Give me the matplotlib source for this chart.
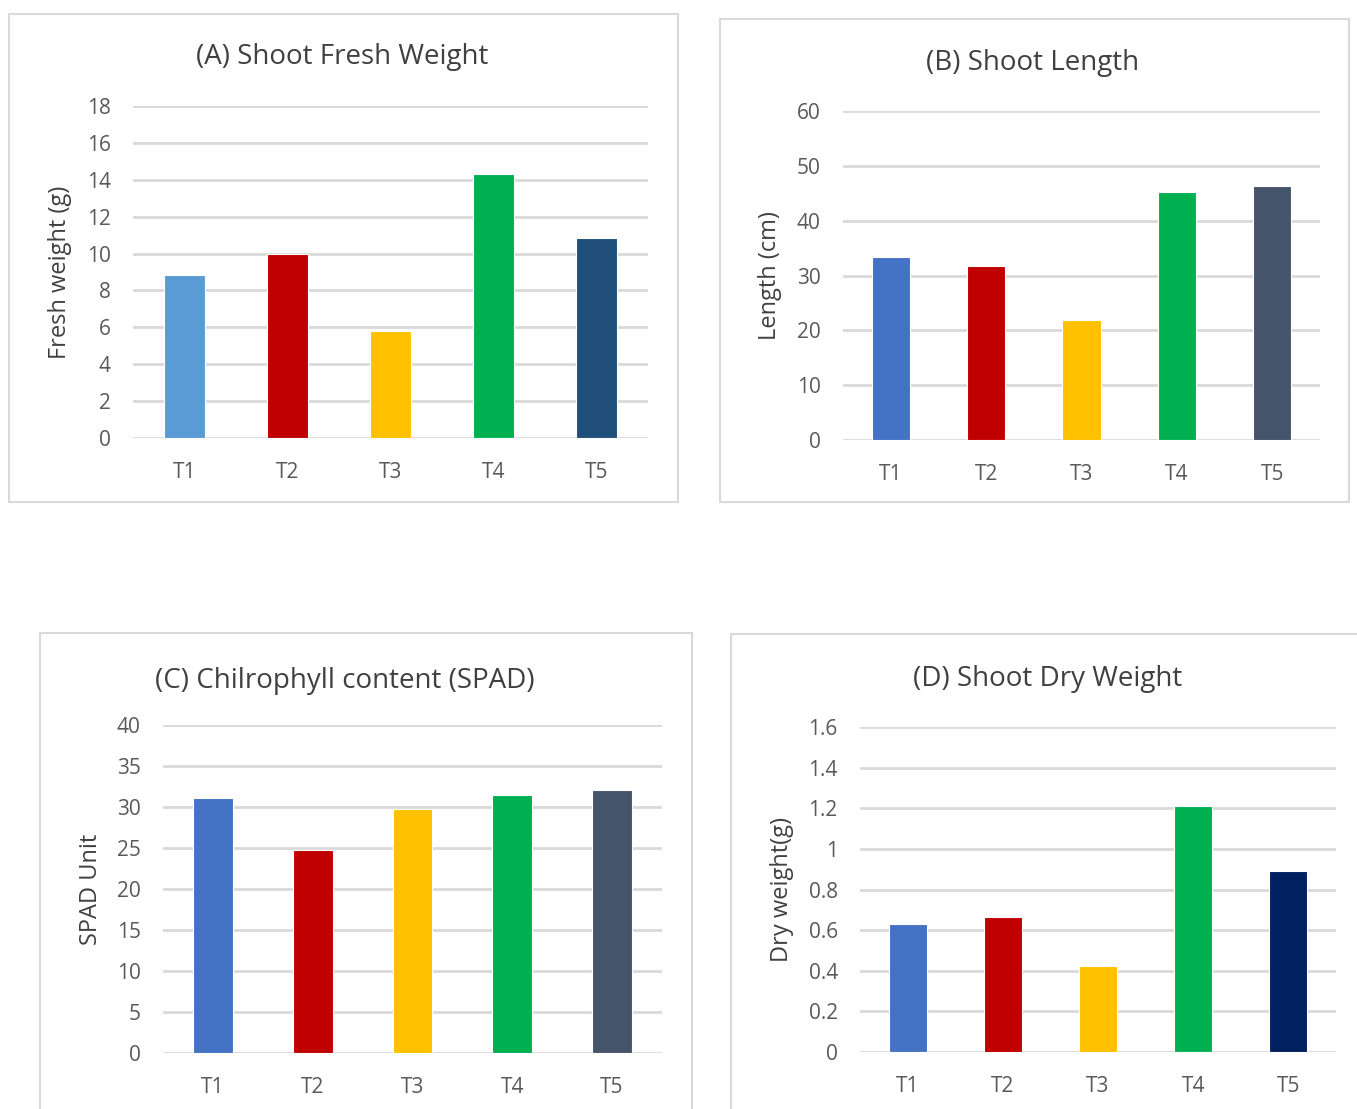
import matplotlib.pyplot as plt
from matplotlib.patches import Rectangle

treatments = ["T1", "T2", "T3", "T4", "T5"]
fresh_weight = [8.82, 10.0, 5.82, 14.33, 10.85]
shoot_length = [33.4, 31.7, 21.9, 45.2, 46.4]
spad = [31.1, 24.8, 29.7, 31.5, 32.1]
dry_weight = [0.63, 0.667, 0.421, 1.211, 0.889]

plt.rcParams['font.family'] = ['Open Sans', 'DejaVu Sans']

W, H = 1357, 1109
fig = plt.figure(figsize=(W / 100, H / 100), dpi=100)


def box(x0, y0, x1, y1):
    # chart border in pixel coords (top-left origin)
    r = Rectangle((x0 / W, 1 - y1 / H), (x1 - x0) / W, (y1 - y0) / H,
                  transform=fig.transFigure, fill=False, edgecolor='#d9d9d9',
                  lw=1.5, zorder=0)
    fig.add_artist(r)


def panel(x0, x1, ytop, ybot, vals, colors, ymax, step, title, title_xy, ylabel, ylabel_x, fmt):
    ax = fig.add_axes([x0 / W, 1 - ybot / H, (x1 - x0) / W, (ybot - ytop) / H])
    ax.bar(range(5), vals, width=0.4, color=colors, edgecolor='white', lw=0.8, zorder=3)
    ax.set_xlim(-0.5, 4.5)
    ax.set_ylim(0, ymax)
    ticks = [i * step for i in range(int(round(ymax / step)) + 1)]
    ax.set_yticks(ticks)
    ax.set_yticklabels([fmt(t) for t in ticks])
    ax.set_xticks(range(5))
    ax.set_xticklabels(treatments)
    for s in ax.spines.values():
        s.set_visible(False)
    ax.grid(axis='y', color='#d9d9d9', lw=2, zorder=0)
    ax.set_axisbelow(True)
    ax.tick_params(length=0, labelsize=15, colors='#595959')
    ax.tick_params(axis='y', pad=16)
    ax.tick_params(axis='x', pad=17)
    fig.text(title_xy[0] / W, 1 - (title_xy[1] + 2) / H, title, ha='center', va='center',
             fontsize=20, color='#404040')
    fig.text(ylabel_x / W, 1 - (ytop + ybot) / 2 / H, ylabel, rotation=90,
             ha='center', va='center', fontsize=17, color='#404040')
    return ax


box(9, 14, 678, 502)
panel(133, 648, 106, 438, fresh_weight,
      ['#5b9bd5', '#c00000', '#ffc000', '#00b050', '#1f4e79'],
      18, 2, "(A) Shoot Fresh Weight", (342, 55), "Fresh weight (g)", 60,
      lambda t: f"{t:g}")

box(720, 19, 1349, 502)
panel(843, 1320, 111, 440, shoot_length,
      ['#4472c4', '#c00000', '#ffc000', '#00b050', '#44546a'],
      60, 10, "(B) Shoot Length", (1033, 61), "Length (cm)", 770,
      lambda t: f"{t:g}")

box(40, 633, 692, 1130)
panel(163, 662, 725, 1053, spad,
      ['#4472c4', '#c00000', '#ffc000', '#00b050', '#44546a'],
      40, 5, "(C) Chilrophyll content (SPAD)", (345, 679), "SPAD Unit", 91,
      lambda t: f"{t:g}")

box(731, 634, 1380, 1130)
panel(860, 1336, 727, 1052, dry_weight,
      ['#4472c4', '#c00000', '#ffc000', '#00b050', '#002060'],
      1.6, 0.2, "(D) Shoot Dry Weight", (1048, 677), "Dry weight(g)", 782,
      lambda t: f"{round(t, 1):g}")

fig.savefig("out.png", dpi=100, facecolor='white')
